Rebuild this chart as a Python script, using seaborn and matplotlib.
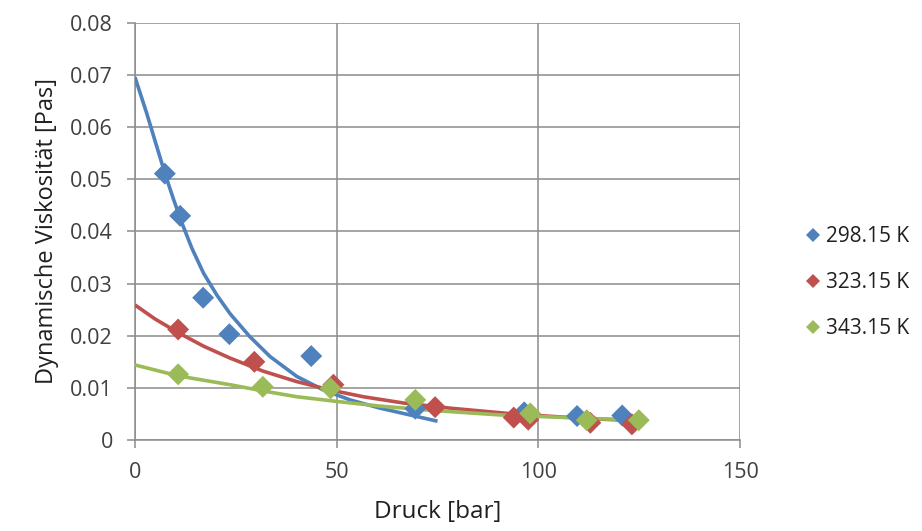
import matplotlib
matplotlib.use("Agg")
import matplotlib.pyplot as plt
import seaborn as sns
import pandas as pd

# Measured points
series_names = ["298.15 K", "323.15 K", "343.15 K"]

p_298 = [7.4, 11.2, 16.9, 23.4, 43.7, 69.5, 96.5, 109.6, 120.8]
v_298 = [0.0511, 0.0430, 0.0273, 0.0203, 0.0161, 0.0060, 0.0053, 0.0046, 0.0047]

p_323 = [10.7, 29.6, 49.2, 74.4, 93.9, 97.5, 112.9, 123.2]
v_323 = [0.0212, 0.0150, 0.0106, 0.0063, 0.0043, 0.0039, 0.0033, 0.0030]

p_343 = [10.7, 31.7, 48.5, 69.5, 98.0, 112.0, 124.9]
v_343 = [0.0126, 0.0102, 0.0099, 0.0077, 0.0051, 0.0038, 0.0038]

# Trend lines
tp_298 = [0.0, 2.9, 5.4, 7.4, 9.5, 11.6, 14.1, 17.0, 20.3, 23.6, 28.5, 33.5, 40.1,
          46.7, 53.3, 60.8, 68.2, 75.0]
tv_298 = [0.0696, 0.0627, 0.0563, 0.0512, 0.0463, 0.0417, 0.0368, 0.0320, 0.0278,
          0.0242, 0.0198, 0.0160, 0.0122, 0.0096, 0.0077, 0.0061, 0.0048, 0.0036]

tp_323 = [0.0, 5.0, 10.7, 17.0, 23.6, 31.8, 40.1, 48.4, 56.6, 66.5, 78.2, 93.8, 110.0, 124.0]
tv_323 = [0.0259, 0.0232, 0.0206, 0.0180, 0.0157, 0.0132, 0.0112, 0.0096, 0.0083,
          0.0071, 0.0061, 0.0050, 0.0042, 0.0037]

tp_343 = [0.0, 10.7, 23.6, 31.8, 40.1, 50.0, 60.8, 73.2, 90.6, 107.1, 125.0]
tv_343 = [0.0144, 0.0123, 0.0106, 0.0094, 0.0083, 0.0074, 0.0065, 0.0057, 0.0048,
          0.0043, 0.0038]

x_ticks = [0, 50, 100, 150]
y_ticks = [0, 0.01, 0.02, 0.03, 0.04, 0.05, 0.06, 0.07, 0.08]
y_tick_labels = ["0", "0.01", "0.02", "0.03", "0.04", "0.05", "0.06", "0.07", "0.08"]

colors = ["#4F81BD", "#C0504D", "#9BBB59"]

pts = pd.concat([
    pd.DataFrame({"p": p, "v": v, "s": n})
    for p, v, n in zip([p_298, p_323, p_343], [v_298, v_323, v_343], series_names)
], ignore_index=True)
trend = pd.concat([
    pd.DataFrame({"p": p, "v": v, "s": n})
    for p, v, n in zip([tp_298, tp_323, tp_343], [tv_298, tv_323, tv_343], series_names)
], ignore_index=True)

sns.set_style("white")
plt.rcParams["font.family"] = ["Open Sans", "DejaVu Sans"]

fig = plt.figure(figsize=(9.22, 5.31), dpi=100)
ax = fig.add_axes([0.1464, 0.1714, 0.6562, 0.7853])

palette = dict(zip(series_names, colors))
for n in series_names:
    line_ax = sns.lineplot(data=trend[trend.s == n], x="p", y="v", color=palette[n], sort=False,
                           estimator=None, linewidth=2.6, ax=ax, legend=False, zorder=3)
for l in ax.lines:
    l.set_solid_joinstyle("round")
    l.set_solid_capstyle("butt")
sns.scatterplot(data=pts, x="p", y="v", hue="s", palette=palette, marker="D", s=125,
                linewidth=0, ax=ax, zorder=4)
handles, labels = ax.get_legend_handles_labels()
if ax.get_legend() is not None:
    ax.get_legend().remove()

ax.set_xlim(0, 150)
ax.set_ylim(0, 0.08)
ax.set_xticks(x_ticks)
ax.set_xticklabels([str(t) for t in x_ticks])
ax.set_yticks(y_ticks)
ax.set_yticklabels(y_tick_labels)
ax.grid(True, color="#8c8c8c", linewidth=1.1)
ax.set_axisbelow(True)
for side in ["top", "right"]:
    ax.spines[side].set_visible(False)
for side in ["left", "bottom"]:
    ax.spines[side].set_color("#8c8c8c")
    ax.spines[side].set_linewidth(1.1)
ax.tick_params(axis="both", which="major", length=6, width=1.1, color="#8c8c8c",
               labelsize=15.5, labelcolor="#404040", direction="out", bottom=True, left=True)
ax.tick_params(axis="x", pad=10)
ax.tick_params(axis="y", pad=10)
ax.set_xlabel("Druck [bar]", fontsize=17.5, color="#202020", labelpad=12)
ax.set_ylabel("Dynamische Viskosität [Pas]", fontsize=17, color="#202020", labelpad=8)

leg = fig.legend(handles, labels, loc="center left", bbox_to_anchor=(800 / 922, 1 - 283 / 531),
                 frameon=False, fontsize=15, labelspacing=1.2, handletextpad=0.05,
                 handlelength=1.2, borderpad=0, borderaxespad=0, markerscale=0.6)
for t in leg.get_texts():
    t.set_color("#202020")

fig.savefig("out.png", dpi=100)
